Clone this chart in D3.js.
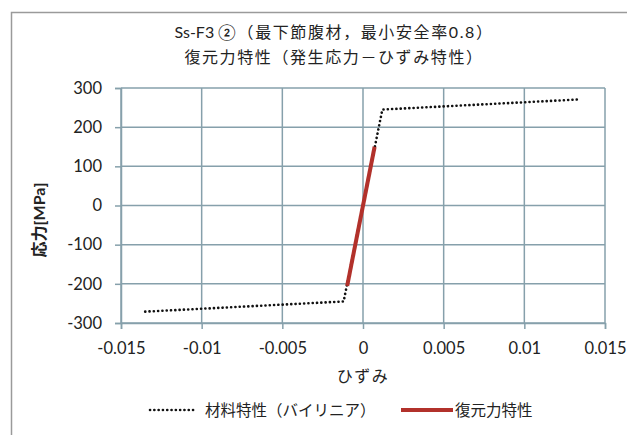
<!DOCTYPE html>
<html><head><meta charset="utf-8">
<script src="https://cdn.jsdelivr.net/npm/d3@7"></script>
<style>
html,body{margin:0;padding:0;background:#fff;}
text{font-family:Lato,"Noto Sans CJK JP",sans-serif;fill:#222;}
</style></head>
<body>
<svg id="c" width="627" height="435"></svg>
<script>
const titlePrefix = "Ss-F3 ";
const titleLines = ["②（最下節腹材，最小安全率0.8）", "復元力特性（発生応力－ひずみ特性）"];
const xTicks = [-0.015, -0.01, -0.005, 0, 0.005, 0.01, 0.015];
const xTickLabels = ["-0.015", "-0.01", "-0.005", "0", "0.005", "0.01", "0.015"];
const yTicks = [-300, -200, -100, 0, 100, 200, 300];
const yTickLabels = ["-300", "-200", "-100", "0", "100", "200", "300"];
const bilinearStrain = [-0.0135, -0.0012, 0.0012, 0.0135];
const bilinearStress = [-271, -245, 245, 271];
const restoringStrain = [-0.00098, 0.00072];
const restoringStress = [-205, 150];
const seriesNames = ["材料特性（バイリニア）", "復元力特性"];
const xTitle = "ひずみ";
const yTitle = "応力[MPa]";

const svg = d3.select("#c");
svg.append("rect").attr("x",11.5).attr("y",12.5).attr("width",640).attr("height",440)
  .attr("fill","#fff").attr("stroke","#9a9a9a").attr("stroke-width",1.5);

const L=121, R=605, T=88, B=323;
const x = d3.scaleLinear().domain([-0.015,0.015]).range([L,R]);
const y = d3.scaleLinear().domain([-300,300]).range([B,T]);
const grid="#86a0ab";

// grid
const g = svg.append("g");
g.selectAll(".vx").data(xTicks).enter().append("line")
  .attr("x1",d=>x(d)).attr("x2",d=>x(d)).attr("y1",T).attr("y2",B)
  .attr("stroke",grid).attr("stroke-width",1.5);
g.selectAll(".hy").data(yTicks).enter().append("line")
  .attr("x1",L).attr("x2",R).attr("y1",d=>y(d)).attr("y2",d=>y(d))
  .attr("stroke",grid).attr("stroke-width",1.5);

// axes
const xa = svg.append("g").attr("transform",`translate(0,${B})`)
  .call(d3.axisBottom(x).tickValues(xTicks).tickFormat((d,i)=>xTickLabels[i]).tickSize(6).tickPadding(13));
const ya = svg.append("g").attr("transform",`translate(${L},0)`)
  .call(d3.axisLeft(y).tickValues(yTicks).tickFormat((d,i)=>yTickLabels[i]).tickSize(6).tickPadding(13));
[xa,ya].forEach(a=>{
  a.select(".domain").attr("stroke",grid).attr("stroke-width",1.5);
  a.selectAll(".tick line").attr("stroke",grid).attr("stroke-width",1.5);
  a.selectAll("text").attr("font-size",16.5).attr("fill","#1a1a1a").style("font-family","Lato,'Noto Sans CJK JP',sans-serif");
});

// lines
const line = d3.line().x(d=>x(d[0])).y(d=>y(d[1]));
const bil = bilinearStrain.map((v,i)=>[v,bilinearStress[i]]);
const rst = restoringStrain.map((v,i)=>[v,restoringStress[i]]);
svg.append("path").datum(bil).attr("d",line).attr("fill","none")
  .attr("stroke","#111").attr("stroke-width",2.6).attr("stroke-linecap","round")
  .attr("stroke-dasharray","0.1 4.2");
svg.append("path").datum(rst).attr("d",line).attr("fill","none")
  .attr("stroke","#b2312b").attr("stroke-width",4);

// titles
const t1 = svg.append("text").attr("x",334).attr("y",38).attr("text-anchor","middle").attr("font-size",16);
t1.append("tspan").text(titlePrefix);
t1.append("tspan").attr("letter-spacing",1.6).text(titleLines[0]);
svg.append("text").attr("x",334).attr("y",63).attr("text-anchor","middle")
  .attr("font-size",16).attr("letter-spacing",1.6).text(titleLines[1]);
svg.append("text").attr("x",363).attr("y",382).attr("text-anchor","middle")
  .attr("font-size",16).attr("letter-spacing",1.5).text(xTitle);
svg.append("text").attr("transform","translate(45,220) rotate(-90)")
  .attr("text-anchor","middle").attr("font-size",16).attr("font-weight","bold").text(yTitle);

// legend
const lg = svg.append("g");
lg.append("line").attr("x1",150).attr("x2",197).attr("y1",410).attr("y2",410)
  .attr("stroke","#111").attr("stroke-width",2.6).attr("stroke-linecap","round").attr("stroke-dasharray","0.1 4.2");
lg.append("text").attr("x",205).attr("y",416).attr("font-size",15.5).text(seriesNames[0]);
lg.append("line").attr("x1",401).attr("x2",453).attr("y1",410).attr("y2",410)
  .attr("stroke","#b2312b").attr("stroke-width",4);
lg.append("text").attr("x",455).attr("y",416).attr("font-size",15.5).text(seriesNames[1]);
</script>
</body></html>
